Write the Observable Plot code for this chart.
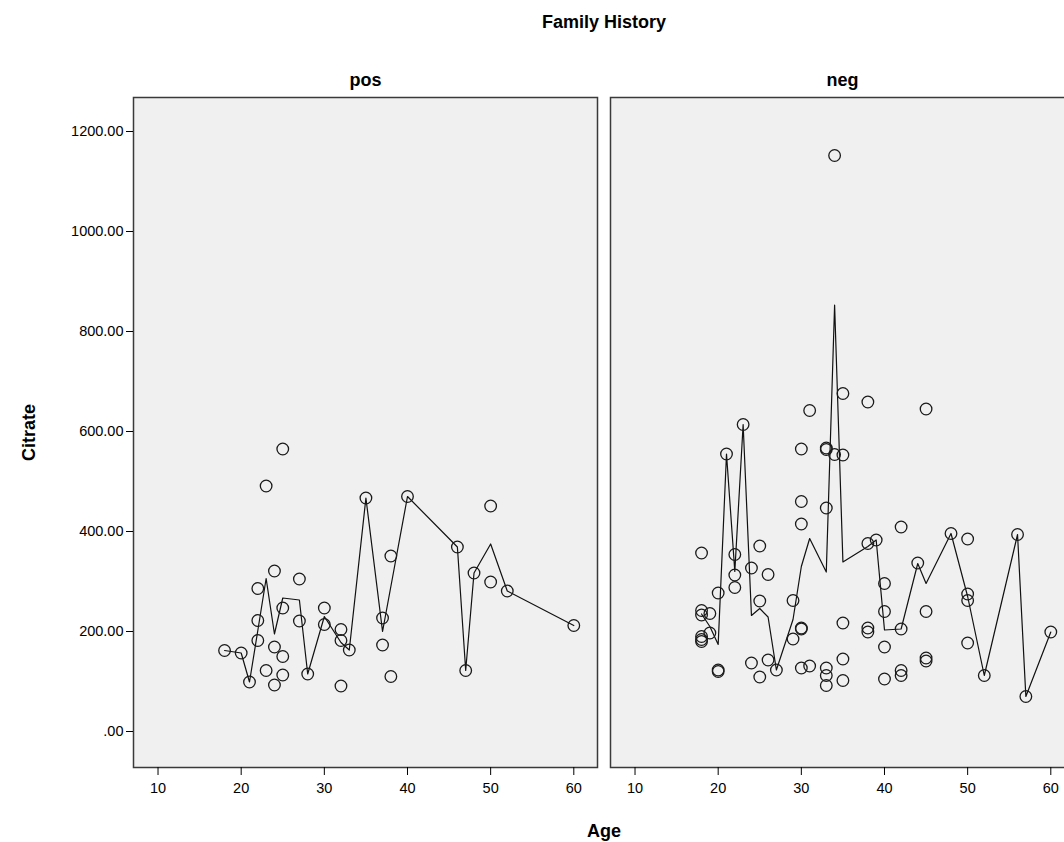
<!DOCTYPE html>
<html><head><meta charset="utf-8">
<script src="https://cdn.jsdelivr.net/npm/d3@7"></script>
<script src="https://cdn.jsdelivr.net/npm/@observablehq/plot@0.6"></script>
<style>
html,body{margin:0;padding:0;background:#fff;overflow:hidden;}
#chart svg{max-width:none !important;}
#chart svg g[aria-label$="axis label"] text{font-weight:bold;font-size:18px;}
#chart svg g[aria-label="fx-axis tick label"] text{font-weight:bold;font-size:18px;}
</style></head><body><div id="chart"></div>
<script>
const facets = ["pos", "neg"];
const xTicks = [10, 20, 30, 40, 50, 60];
const yTicks = [0, 200, 400, 600, 800, 1000, 1200];

const posAge = [18,20,21,22,22,22,23,23,24,24,24,25,25,25,25,27,27,28,30,30,32,32,32,33,35,37,37,38,38,40,46,47,48,50,50,52,60];
const posCitrate = [162,157,99,286,222,182,491,122,321,169,93,565,247,150,113,305,221,115,247,214,204,182,91,163,467,227,173,351,110,470,369,122,317,451,299,281,212];

const negAge = [18,18,18,18,18,18,19,19,20,20,20,21,22,22,22,23,24,24,25,25,25,26,26,27,29,29,30,30,30,30,30,30,31,31,33,33,33,33,33,33,34,34,35,35,35,35,35,38,38,38,38,39,40,40,40,40,42,42,42,42,44,45,45,45,45,48,50,50,50,50,52,56,57,60];
const negCitrate = [357,242,233,190,184,180,236,197,277,123,120,555,354,313,288,614,327,137,371,261,109,314,143,123,262,185,565,460,415,207,205,127,642,131,567,564,447,127,112,92,1152,554,676,553,217,145,102,659,376,207,199,383,296,240,169,105,409,205,122,112,337,645,240,147,141,396,385,275,262,177,112,394,70,199];

const posLineAge = [18,20,21,22,23,24,25,27,28,30,32,33,35,37,38,40,46,47,48,50,52,60];
const posLineMean = [162,157,99,202,306,195,267,263,115,230,178,163,467,200,290,470,369,122,317,375,281,212];
const negLineAge = [18,19,20,21,22,23,24,25,26,27,29,30,31,33,34,35,38,39,40,42,44,45,48,50,52,56,57,60];
const negLineMean = [235,210,174,555,320,614,232,246,229,123,224,330,386,319,853,339,370,383,203,205,336,296,396,270,112,394,70,199];

const points = [
  ...posAge.map((a, i) => ({fam: "pos", age: a, citrate: posCitrate[i]})),
  ...negAge.map((a, i) => ({fam: "neg", age: a, citrate: negCitrate[i]}))
];
const lines = [
  ...posLineAge.map((a, i) => ({fam: "pos", age: a, mean: posLineMean[i]})),
  ...negLineAge.map((a, i) => ({fam: "neg", age: a, mean: negLineMean[i]}))
];

const chart = Plot.plot({
  width: 1074,
  height: 842,
  marginTop: 97,
  marginBottom: 75,
  marginLeft: 133,
  marginRight: 0,
  style: {fontFamily: "'Liberation Sans', Arial, sans-serif", fontSize: "14.5px", background: "#fff", color: "#000"},
  fx: {domain: facets, paddingInner: 13 / 477, paddingOuter: 0},
  x: {domain: [7.05, 62.85]},
  y: {domain: [-72, 1268]},
  marks: [
    Plot.frame({fill: "#f0f0f0", stroke: "#3a3a3a", strokeWidth: 1.5}),
    Plot.axisFx({anchor: "top", tickSize: 0, tickPadding: 12, label: "Family History", labelAnchor: "center", labelOffset: 82}),
    Plot.axisY({ticks: yTicks, tickFormat: d => d === 0 ? ".00" : d.toFixed(2), tickSize: 7, tickPadding: 3, label: "Citrate", labelAnchor: "center", labelOffset: 111, labelArrow: "none"}),
    Plot.axisX({ticks: xTicks, tickFormat: d => String(d), tickSize: 8, tickPadding: 7, label: "Age", labelAnchor: "center", labelOffset: 69, labelArrow: "none"}),
    Plot.line(lines, {x: "age", y: "mean", fx: "fam", stroke: "#111", strokeWidth: 1.2}),
    Plot.dot(points, {x: "age", y: "citrate", fx: "fam", r: 5.8, stroke: "#1a1a1a", strokeWidth: 1.3, fill: "none"})
  ]
});
document.getElementById("chart").appendChild(chart);
</script>
</body></html>
